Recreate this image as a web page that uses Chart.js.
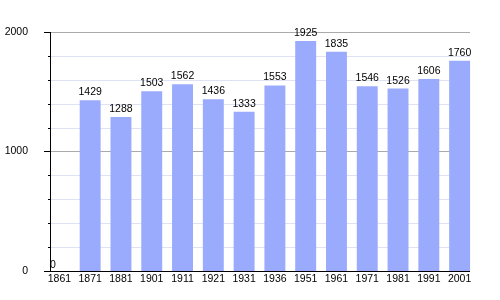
<!DOCTYPE html>
<html>
<head>
<meta charset="utf-8">
<script src="https://cdn.jsdelivr.net/npm/chart.js@4"></script>
<style>
html,body{margin:0;padding:0;background:#fff;}
#wrap{width:500px;height:300px;}
</style>
</head>
<body>
<div id="wrap"><canvas id="c" width="500" height="300"></canvas></div>
<script>
const years = ['1861','1871','1881','1901','1911','1921','1931','1936','1951','1961','1971','1981','1991','2001'];
const population = [0,1429,1288,1503,1562,1436,1333,1553,1925,1835,1546,1526,1606,1760];
const yMin = 0, yMax = 2000, yStep = 200, yMajor = 1000;

const FONT = 'Liberation Sans, Arial, sans-serif';

const gridPlugin = {
  id: 'gridPlugin',
  beforeDatasetsDraw(chart) {
    const ctx = chart.ctx, y = chart.scales.y;
    const els = chart.getDatasetMeta(0).data;
    const x0 = Math.round(els[0].x - els[0].width / 2) + 1;
    const last = els[els.length - 1];
    const x1 = Math.round(last.x + last.width / 2);
    ctx.save();
    ctx.lineWidth = 1;
    for (let v = yMin + yStep; v <= yMax; v += yStep) {
      const py = Math.round(y.getPixelForValue(v)) + 0.5;
      ctx.strokeStyle = (v % yMajor === 0) ? '#aaaaaa' : '#dfe2f2';
      ctx.beginPath(); ctx.moveTo(x0, py); ctx.lineTo(x1, py); ctx.stroke();
    }
    ctx.restore();
  },
  afterDatasetsDraw(chart) {
    const ctx = chart.ctx, y = chart.scales.y;
    const els = chart.getDatasetMeta(0).data;
    const x0 = Math.round(els[0].x - els[0].width / 2) + 1;
    const last = els[els.length - 1];
    const x1 = Math.round(last.x + last.width / 2);
    const yTop = Math.round(y.getPixelForValue(yMax));
    const yBot = Math.round(y.getPixelForValue(yMin)) + 0.5;
    ctx.save();
    ctx.strokeStyle = '#000';
    ctx.lineWidth = 1;
    ctx.beginPath();
    ctx.moveTo(x0 + 0.5, yTop); ctx.lineTo(x0 + 0.5, yBot);
    ctx.moveTo(x0, yBot); ctx.lineTo(x1, yBot);
    for (let v = yMin; v <= yMax; v += yStep) {
      const py = Math.round(y.getPixelForValue(v)) + 0.5;
      const len = (v % yMajor === 0) ? 6 : 2;
      ctx.moveTo(x0 - len, py); ctx.lineTo(x0, py);
    }
    ctx.stroke();
    // value labels
    ctx.fillStyle = '#000';
    ctx.font = '10.5px ' + FONT;
    ctx.textBaseline = 'middle';
    els.forEach((el, i) => {
      const txt = String(population[i]);
      const w = ctx.measureText(txt).width;
      if (w < el.width) {
        ctx.textAlign = 'left';
        ctx.fillText(txt, el.x - el.width / 2 + 1, el.y - 6);
      } else {
        ctx.textAlign = 'center';
        ctx.fillText(txt, el.x, el.y - 8);
      }
    });
    ctx.restore();
  }
};

new Chart(document.getElementById('c'), {
  type: 'bar',
  data: {
    labels: years,
    datasets: [{
      data: population,
      backgroundColor: '#9aabfd',
      borderWidth: 0,
      barPercentage: 0.68,
      categoryPercentage: 1.0
    }]
  },
  options: {
    responsive: false,
    animation: false,
    events: [],
    layout: { padding: { top: 32, right: 25, bottom: 12.5, left: 0 } },
    plugins: { legend: { display: false }, tooltip: { enabled: false } },
    scales: {
      x: {
        offset: true,
        grid: { display: false, drawTicks: false, tickLength: 0 },
        border: { display: false },
        ticks: { color: '#000', font: { size: 10.5, family: FONT }, padding: 2, maxRotation: 0, autoSkip: false }
      },
      y: {
        min: yMin, max: yMax,
        afterFit(scale) { scale.width = 44; },
        grid: { display: false },
        border: { display: false },
        ticks: {
          stepSize: yStep,
          color: '#000',
          padding: 8,
          font: { size: 10.5, family: FONT },
          callback: (v) => (v % yMajor === 0 ? String(v) : '')
        }
      }
    }
  },
  plugins: [gridPlugin]
});
</script>
</body>
</html>
